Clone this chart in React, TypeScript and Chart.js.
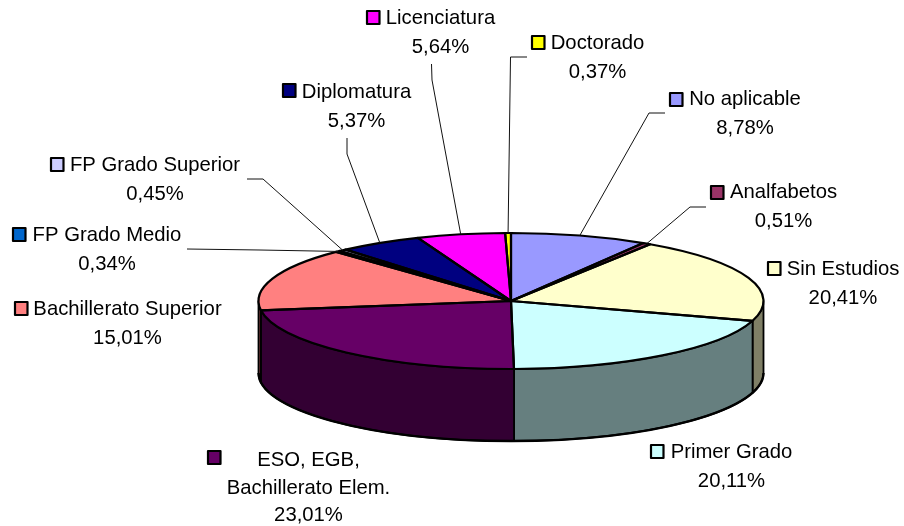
import React, { useEffect, useRef } from "react";
import { Chart, registerables } from "chart.js";

Chart.register(...registerables);

const categories = [
  "No aplicable",
  "Analfabetos",
  "Sin Estudios",
  "Primer Grado",
  "ESO, EGB,\nBachillerato Elem.",
  "Bachillerato Superior",
  "FP Grado Medio",
  "FP Grado Superior",
  "Diplomatura",
  "Licenciatura",
  "Doctorado",
];
const values = [8.78, 0.51, 20.41, 20.11, 23.01, 15.01, 0.34, 0.45, 5.37, 5.64, 0.37];
const colors = [
  "#9999FF", "#993366", "#FFFFCC", "#CCFFFF", "#660066", "#FF8080",
  "#0066CC", "#CCCCFF", "#000080", "#FF00FF", "#FFFF00",
];

// Label placement: [text centre x, first baseline y, key left x, key top y, line gap]
const labelPlaces: number[][] = [
  [745, 105, 669, 92, 29],
  [783.5, 198, 710, 185, 29],
  [843, 275, 767, 261, 29],
  [731.5, 458, 650, 444, 29],
  [308.5, 466, 207, 450, 27.5],
  [127.5, 315, 14, 301, 29],
  [107, 241, 12, 227, 29],
  [155, 171, 50, 157, 29],
  [356.5, 98, 282, 83, 29],
  [440.5, 24, 366, 10, 29],
  [597.5, 49, 531, 35, 29],
];
// Leader line elbows (start, elbow); the line ends on the slice rim
const leaderElbows: (number[][] | null)[] = [
  [[665, 113], [649, 113]],
  [[706, 207], [690, 207]],
  null,
  null,
  null,
  null,
  [[187, 249], [260, 250]],
  [[247, 179], [263, 179]],
  [[347, 138], [347, 154]],
  [[431.5, 64], [432, 80]],
  [[527, 57], [510.5, 57]],
];

const CY = 301;
const RY = 68;
const DEPTH = 72;
const FONT = '20.3px "Liberation Sans", Arial, sans-serif';

const halve = (hex: string) => {
  const n = parseInt(hex.slice(1), 16);
  return `rgb(${(n >> 16) >> 1},${((n >> 8) & 255) >> 1},${(n & 255) >> 1})`;
};

const pie3d = {
  id: "pie3d",
  beforeDatasetsDraw(chart: any) {
    const ctx = chart.ctx;
    const arcs = chart.getDatasetMeta(0).data;
    const cx = arcs[0].x;
    const rx = arcs[0].outerRadius;
    ctx.save();
    ctx.lineJoin = "round";
    arcs.forEach((arc: any, i: number) => {
      const a = Math.max(arc.startAngle, 0);
      const b = Math.min(arc.endAngle, Math.PI);
      if (b <= a) return;
      ctx.beginPath();
      ctx.ellipse(cx, CY, rx, RY, 0, a, b);
      ctx.ellipse(cx, CY + DEPTH, rx, RY, 0, b, a, true);
      ctx.closePath();
      ctx.fillStyle = halve(colors[i]);
      ctx.fill();
      ctx.strokeStyle = "#000";
      ctx.lineWidth = 1.8;
      ctx.stroke();
    });
    ctx.beginPath();
    ctx.ellipse(cx, CY + DEPTH, rx, RY, 0, 0, Math.PI);
    ctx.lineWidth = 2.4;
    ctx.stroke();
    ctx.restore();
    ctx.save();
    ctx.translate(0, CY);
    ctx.scale(1, RY / rx);
    ctx.translate(0, -arcs[0].y);
  },
  afterDatasetsDraw(chart: any) {
    const ctx = chart.ctx;
    ctx.restore();
    const arcs = chart.getDatasetMeta(0).data;
    const cx = arcs[0].x;
    const rx = arcs[0].outerRadius;
    ctx.save();
    ctx.strokeStyle = "#000";
    ctx.lineJoin = "round";
    ctx.lineWidth = 2.2;
    arcs.forEach((arc: any) => {
      ctx.beginPath();
      ctx.moveTo(cx, CY);
      ctx.ellipse(cx, CY, rx, RY, 0, arc.startAngle, arc.endAngle);
      ctx.closePath();
      ctx.stroke();
    });

    // leader lines, ending on the rim at each slice's middle angle
    ctx.lineWidth = 1;
    ctx.strokeStyle = "#111";
    leaderElbows.forEach((pts, i) => {
      if (!pts) return;
      const mid = (arcs[i].startAngle + arcs[i].endAngle) / 2;
      ctx.beginPath();
      ctx.moveTo(pts[0][0], pts[0][1]);
      ctx.lineTo(pts[1][0], pts[1][1]);
      ctx.lineTo(cx + rx * Math.cos(mid), CY + RY * Math.sin(mid));
      ctx.stroke();
    });

    // labels
    ctx.font = FONT;
    ctx.textAlign = "center";
    ctx.textBaseline = "alphabetic";
    categories.forEach((name, i) => {
      const [tx, ty, kx, ky, gap] = labelPlaces[i];
      const lines = [...name.split("\n"), values[i].toFixed(2).replace(".", ",") + "%"];
      lines.forEach((line, j) => {
        ctx.fillStyle = "#000";
        ctx.fillText(line, tx, ty + j * gap);
      });
      ctx.fillStyle = colors[i];
      ctx.fillRect(kx + 1, ky + 1, 12.5, 13);
      ctx.strokeStyle = "#000";
      ctx.lineWidth = 2.2;
      ctx.strokeRect(kx + 1, ky + 1, 12.5, 13);
    });
    ctx.restore();
  },
};

export default function App() {
  const ref = useRef<HTMLCanvasElement>(null);
  useEffect(() => {
    const chart = new Chart(ref.current as HTMLCanvasElement, {
      type: "pie",
      data: {
        labels: categories,
        datasets: [{ data: values, backgroundColor: colors, borderWidth: 0 }],
      },
      options: {
        responsive: false,
        animation: false,
        layout: { padding: { left: 258.5, right: 140.5, top: 10.5, bottom: 10.5 } },
        plugins: { legend: { display: false }, tooltip: { enabled: false } },
      },
      plugins: [pie3d],
    } as any);
    return () => chart.destroy();
  }, []);
  return (
    <canvas
      ref={ref}
      width={904}
      height={526}
      style={{ position: "absolute", left: 0, top: 0, display: "block", background: "#fff" }}
    />
  );
}
